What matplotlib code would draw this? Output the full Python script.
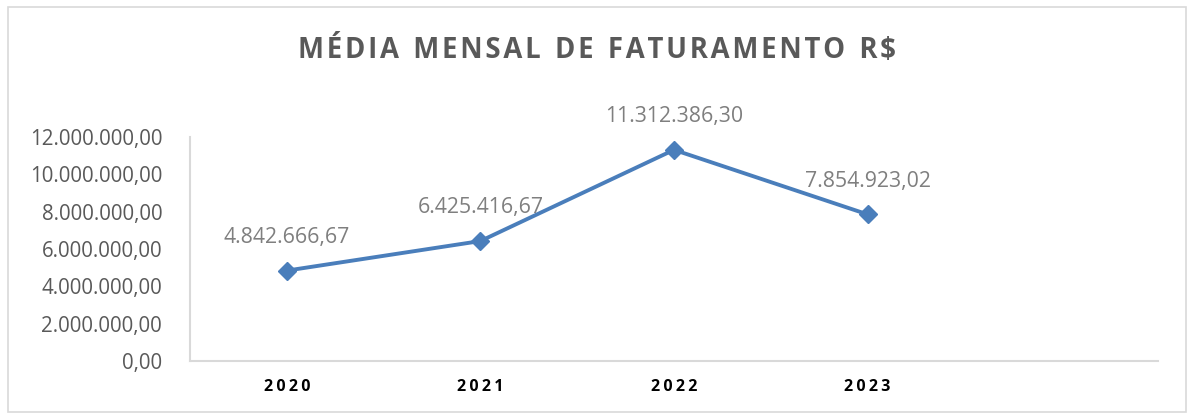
import matplotlib
matplotlib.use("Agg")
import matplotlib.pyplot as plt
from matplotlib.patches import Rectangle

categories = ["2020", "2021", "2022", "2023"]
values = [4842666.67, 6425416.67, 11312386.30, 7854923.02]
value_labels = ["4.842.666,67", "6.425.416,67", "11.312.386,30", "7.854.923,02"]
y_ticks = [0, 2000000, 4000000, 6000000, 8000000, 10000000, 12000000]
y_tick_labels = ["0,00", "2.000.000,00", "4.000.000,00", "6.000.000,00",
                 "8.000.000,00", "10.000.000,00", "12.000.000,00"]
title = "MÉDIA MENSAL DE FATURAMENTO R$"

W, H = 1188, 413
fig = plt.figure(figsize=(W / 100, H / 100), dpi=100)
fig.patch.set_facecolor("white")
fig.patches.append(Rectangle((8 / W, 1 / H), (1186 - 8) / W, (406 - 1) / H,
                             transform=fig.transFigure, fill=False,
                             edgecolor="#d9d9d9", linewidth=1.2))

left, right, top, bottom = 190, 1158, 137, 361
ax = fig.add_axes([left / W, 1 - bottom / H, (right - left) / W, (bottom - top) / H])

xs = [i + 0.5 for i in range(len(categories))]
ax.plot(xs, values, color="#4a7ebb", linewidth=2.8, marker="D", markersize=9,
        markerfacecolor="#4a7ebb", markeredgecolor="#4a7ebb", zorder=3)

for x, v, lab in zip(xs, values, value_labels):
    ax.annotate(lab, (x, v), xytext=(0, 24), textcoords="offset points",
                ha="center", va="center", fontsize=15.3, color="#7f7f7f",
                family=["Open Sans", "DejaVu Sans"])

ax.set_xlim(0, 5)
ax.set_ylim(0, 12000000)
ax.set_yticks(y_ticks)
ax.set_yticklabels(y_tick_labels, fontsize=14.8, color="#595959",
                   family=["Open Sans", "DejaVu Sans"])
ax.set_xticks(xs)
ax.set_xticklabels(["\u2009".join(c) for c in categories], fontsize=11.5,
                   fontweight="bold", color="black",
                   family=["Open Sans", "DejaVu Sans"])
ax.tick_params(axis="both", length=0)
ax.tick_params(axis="y", pad=20)
ax.tick_params(axis="x", pad=13)

for s in ["top", "right"]:
    ax.spines[s].set_visible(False)
for s in ["left", "bottom"]:
    ax.spines[s].set_color("#d9d9d9")
    ax.spines[s].set_linewidth(1.5)

spaced_title = "  ".join("\u200a".join(w) for w in title.split(" "))
fig.text(597 / W, 1 - 50 / H, spaced_title,
         ha="center", va="center", fontsize=19.8, fontweight="bold",
         color="#595959", family=["Open Sans", "DejaVu Sans"])

fig.savefig("out.png", dpi=100, facecolor="white")
